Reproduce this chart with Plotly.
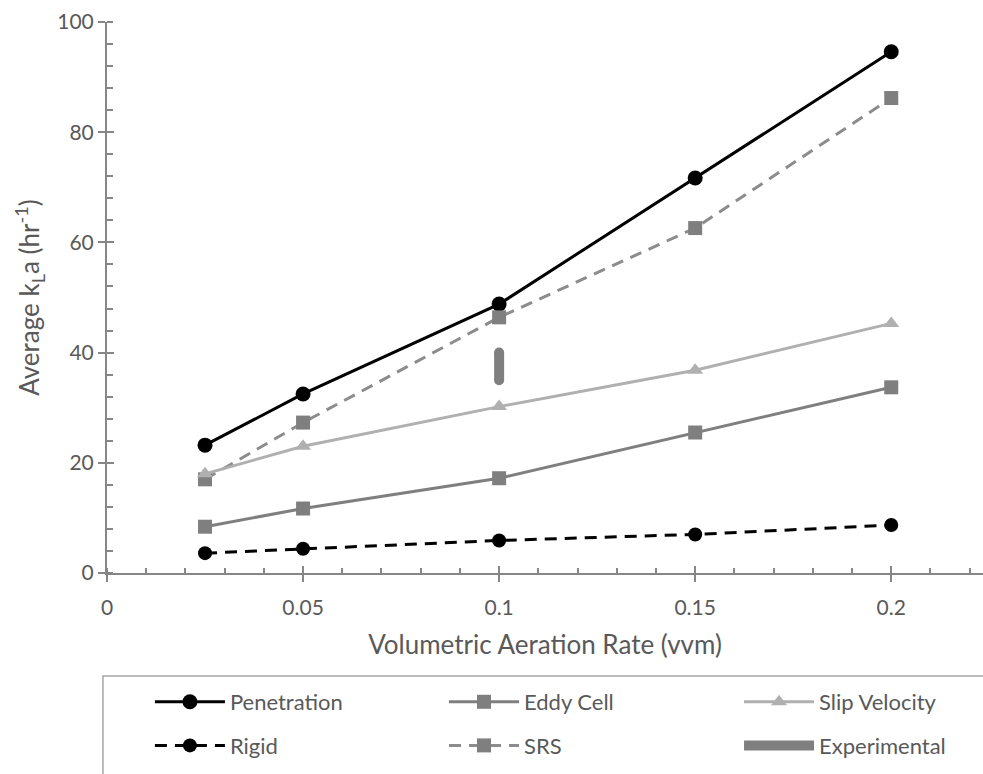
import plotly.graph_objects as go

# Volumetric aeration rate (vvm) and average kLa (1/hr) for each model
vvm = [0.025, 0.05, 0.1, 0.15, 0.2]
penetration = [23.2, 32.5, 48.8, 71.7, 94.6]
eddy_cell = [8.4, 11.7, 17.2, 25.5, 33.7]
slip_velocity = [18.0, 23.0, 30.2, 36.8, 45.3]
rigid = [3.6, 4.4, 5.9, 7.0, 8.7]
srs = [17.0, 27.3, 46.4, 62.6, 86.2]

# Experimental range measured at 0.1 vvm
exp_vvm = [0.1, 0.1]
experimental = [35.0, 40.0]

FONT = "Lato, Open Sans, sans-serif"
AXIS = "#868686"
TEXT = "#595959"
DASH = "12px,8px"

fig = go.Figure()

# column 1 of the legend
fig.add_trace(go.Scatter(
    x=vvm, y=penetration, name="Penetration", mode="lines+markers",
    line=dict(color="#000000", width=3),
    marker=dict(symbol="circle", size=15, color="#000000"),
    legend="legend", legendgroup="a"))
fig.add_trace(go.Scatter(
    x=vvm, y=rigid, name="Rigid", mode="lines+markers",
    line=dict(color="#000000", width=3, dash=DASH),
    marker=dict(symbol="circle", size=14, color="#000000"),
    legend="legend", legendgroup="b"))

# column 2
fig.add_trace(go.Scatter(
    x=vvm, y=eddy_cell, name="Eddy Cell", mode="lines+markers",
    line=dict(color="#7f7f7f", width=3),
    marker=dict(symbol="square", size=14, color="#7f7f7f"),
    legend="legend2", legendgroup="c"))
fig.add_trace(go.Scatter(
    x=vvm, y=srs, name="SRS", mode="lines+markers",
    line=dict(color="#8c8c8c", width=3, dash=DASH),
    marker=dict(symbol="square", size=14, color="#7f7f7f"),
    legend="legend2", legendgroup="d"))

# column 3
fig.add_trace(go.Scatter(
    x=vvm, y=slip_velocity, name="Slip Velocity", mode="lines+markers",
    line=dict(color="#b0b0b0", width=3),
    marker=dict(symbol="triangle-up", size=14, color="#b0b0b0"),
    legend="legend3", legendgroup="e"))
fig.add_trace(go.Scatter(
    x=exp_vvm, y=experimental, name="Experimental", mode="lines",
    line=dict(color="#7f7f7f", width=10),
    legend="legend3", legendgroup="f"))
# rounded ends of the experimental bar
fig.add_trace(go.Scatter(
    x=exp_vvm, y=experimental, mode="markers", showlegend=False,
    marker=dict(symbol="circle", size=10, color="#7f7f7f"),
    hoverinfo="skip"))

# companion axes that draw the inner half of the crossing major ticks
fig.add_trace(go.Scatter(x=[None], y=[None], xaxis="x2", yaxis="y2",
                         showlegend=False, hoverinfo="skip"))

X_RANGE = [0, 0.2234]
Y_RANGE = [0, 100]

legend_style = dict(
    orientation="v", xanchor="left", y=-0.196, yanchor="top",
    itemwidth=70, tracegroupgap=12,
    bgcolor="rgba(0,0,0,0)", borderwidth=0,
    font=dict(size=22, color=TEXT, family=FONT),
    traceorder="grouped",
)

fig.update_layout(
    width=983, height=774,
    margin=dict(l=107, r=0, t=22, b=201),
    paper_bgcolor="white", plot_bgcolor="white",
    font=dict(family=FONT, color=TEXT),
    showlegend=True,
    xaxis=dict(
        range=X_RANGE, tick0=0, dtick=0.05,
        showline=True, linecolor=AXIS, linewidth=2,
        ticks="outside", ticklen=7, tickwidth=2, tickcolor=AXIS,
        minor=dict(dtick=0.01, ticks="inside", ticklen=5, tickwidth=1.5, tickcolor=AXIS),
        showgrid=False, zeroline=False,
        ticklabelstandoff=8,
        tickfont=dict(size=21, color=TEXT, family=FONT),
        title=dict(text="Volumetric Aeration Rate (vvm)", standoff=18,
                   font=dict(size=26, color=TEXT, family=FONT)),
    ),
    yaxis=dict(
        range=Y_RANGE, tick0=0, dtick=20,
        showline=True, linecolor=AXIS, linewidth=2,
        ticks="outside", ticklen=7, tickwidth=2, tickcolor=AXIS,
        minor=dict(dtick=4, ticks="inside", ticklen=6, tickwidth=1.5, tickcolor=AXIS),
        showgrid=False, zeroline=False,
        tickfont=dict(size=21, color=TEXT, family=FONT),
        title=dict(text="Average k<sub>L</sub>a (hr<sup>-1</sup>)", standoff=10,
                   font=dict(size=26, color=TEXT, family=FONT)),
    ),
    xaxis2=dict(
        range=X_RANGE, tick0=0, dtick=0.05, overlaying="x", anchor="y",
        side="bottom", ticks="inside", ticklen=7, tickwidth=2, tickcolor=AXIS,
        showticklabels=False, showline=False, showgrid=False, zeroline=False,
    ),
    yaxis2=dict(
        range=Y_RANGE, tick0=0, dtick=20, overlaying="y", anchor="x",
        side="left", ticks="inside", ticklen=7, tickwidth=2, tickcolor=AXIS,
        showticklabels=False, showline=False, showgrid=False, zeroline=False,
    ),
    legend=dict(legend_style, x=0.049),
    legend2=dict(legend_style, x=0.3847),
    legend3=dict(legend_style, x=0.7215),
    shapes=[dict(
        type="rect", xref="paper", yref="paper",
        x0=-0.0046, x1=1.2, y0=-0.187, y1=-0.6,
        line=dict(color="#a6a6a6", width=1.5), fillcolor="rgba(0,0,0,0)",
        layer="below",
    )],
)

fig.write_html("out.html")
